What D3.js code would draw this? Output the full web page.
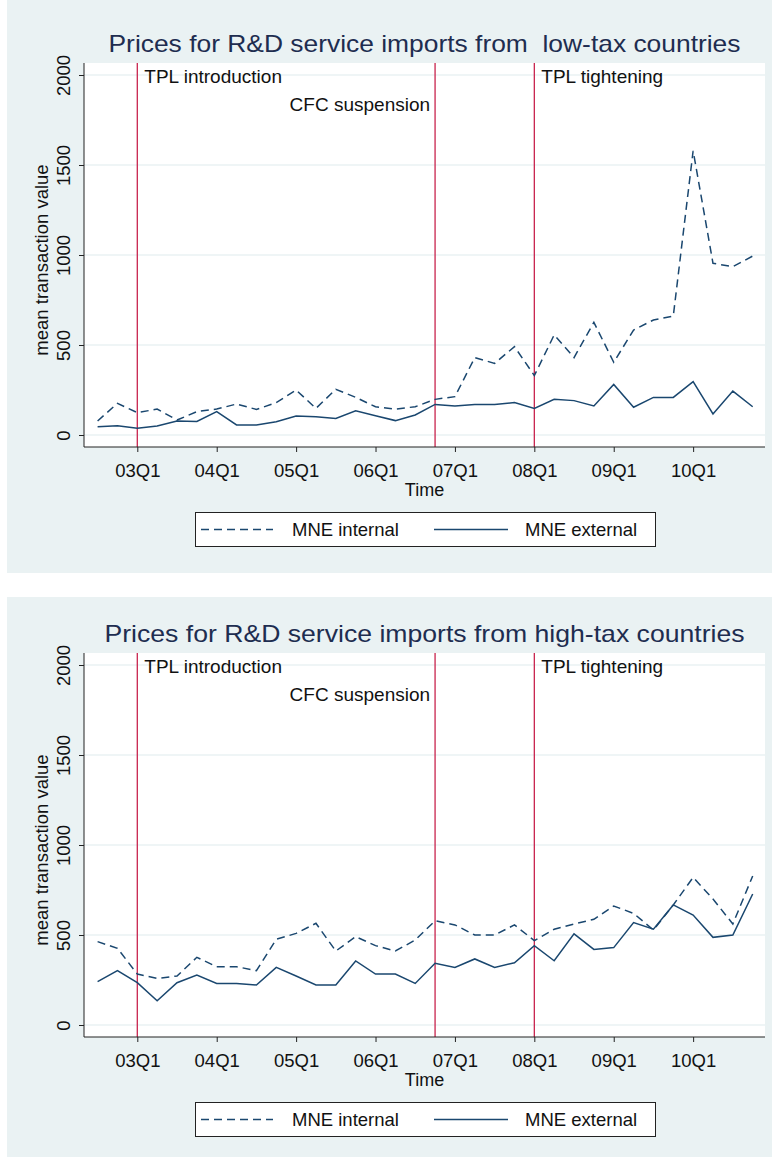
<!DOCTYPE html>
<html>
<head>
<meta charset="utf-8">
<script src="https://cdn.jsdelivr.net/npm/d3@7"></script>
<style>
  body { margin: 0; background: #fff; }
  svg { display: block; font-family: "Liberation Sans", Arial, sans-serif; }
</style>
</head>
<body>
<div id="chart"></div>
<script>
// quarters 02Q3 .. 10Q4
const quarters = ["02Q3","02Q4","03Q1","03Q2","03Q3","03Q4","04Q1","04Q2","04Q3","04Q4",
    "05Q1","05Q2","05Q3","05Q4","06Q1","06Q2","06Q3","06Q4","07Q1","07Q2","07Q3","07Q4",
    "08Q1","08Q2","08Q3","08Q4","09Q1","09Q2","09Q3","09Q4","10Q1","10Q2","10Q3","10Q4"];

const lowInternal = [78,176,124,144,83,130,144,172,142,180,250,148,254,209,157,144,157,198,213,430,
    398,491,330,556,430,626,404,583,639,661,1579,954,935,994];
const lowExternal = [46,52,37,50,78,75,130,56,56,74,106,102,92,135,107,80,111,170,161,170,
    170,180,148,198,191,161,281,154,209,209,296,117,244,157];
const highInternal = [463,426,283,259,272,376,324,324,302,476,509,565,411,491,441,411,472,579,556,500,
    500,556,469,532,561,587,661,620,528,667,820,700,561,828];
const highExternal = [241,302,235,135,235,278,231,231,222,320,272,222,222,356,283,283,231,343,320,367,
    320,346,441,357,506,420,430,569,532,667,611,487,500,728];

const xTickLabels = ["03Q1","04Q1","05Q1","06Q1","07Q1","08Q1","09Q1","10Q1"];
const yTicks = [0, 500, 1000, 1500, 2000];
const events = [
    {q: "03Q1", label: "TPL introduction", row: 0, side: "right"},
    {q: "06Q4", label: "CFC suspension", row: 1, side: "left"},
    {q: "08Q1", label: "TPL tightening", row: 0, side: "right"}
];
const seriesNames = ["MNE internal", "MNE external"];

const panels = [
    {title: "Prices for R&D service imports from  low-tax countries", titleLen: 632, internal: lowInternal, external: lowExternal},
    {title: "Prices for R&D service imports from high-tax countries", titleLen: 640, internal: highInternal, external: highExternal}
];

const W = 772, H = 1157;
const lineColor = "#1a476f", redColor = "#c8234d", bg = "#eaf2f3";
// panel backgrounds [y0, y1]
const panelBoxes = [[0, 573], [597, H]];
const panelShift = 590;

const svg = d3.select("#chart").append("svg")
    .attr("width", W)
    .attr("height", H);

const idx = (q) => quarters.indexOf(q);

panels.forEach((p, pi) => {
    svg.append("rect")
        .attr("x", 7).attr("y", panelBoxes[pi][0])
        .attr("width", W - 7).attr("height", panelBoxes[pi][1] - panelBoxes[pi][0])
        .attr("fill", bg);

    const g = svg.append("g").attr("transform", `translate(0,${pi * panelShift})`);

    const margin = {left: 84, right: 765, top: 63, bottom: 447};
    const x = d3.scaleLinear().domain([-0.685, 33.62]).range([margin.left, margin.right]);
    const y = d3.scaleLinear().domain([0, 2000]).range([435, 75]);

    // plot region
    g.append("rect")
        .attr("x", margin.left).attr("y", margin.top)
        .attr("width", margin.right - margin.left)
        .attr("height", margin.bottom - margin.top)
        .attr("fill", "#fff");

    // grid
    g.append("g").selectAll("line")
        .data(yTicks)
        .enter().append("line")
        .attr("x1", margin.left).attr("x2", margin.right)
        .attr("y1", (d) => y(d)).attr("y2", (d) => y(d))
        .attr("stroke", bg).attr("stroke-width", 1.5);

    // title
    g.append("text")
        .attr("x", (margin.left + margin.right) / 2)
        .attr("y", 52)
        .attr("text-anchor", "middle")
        .attr("font-size", 24)
        .attr("fill", "#1e2d50")
        .attr("textLength", p.titleLen)
        .attr("lengthAdjust", "spacingAndGlyphs")
        .style("white-space", "pre")
        .text(p.title);

    // event lines
    events.forEach((e) => {
        const ex = x(idx(e.q));
        g.append("line")
            .attr("x1", ex).attr("x2", ex)
            .attr("y1", margin.top).attr("y2", margin.bottom)
            .attr("stroke", redColor).attr("stroke-width", 1.3);
        g.append("text")
            .attr("x", e.side === "right" ? ex + 7 : ex - 5)
            .attr("y", 83 + e.row * 27.5)
            .attr("text-anchor", e.side === "right" ? "start" : "end")
            .attr("font-size", 19)
            .attr("fill", "#111")
            .text(e.label);
    });

    // lines
    const line = d3.line()
        .x((d, i) => x(i))
        .y((d) => y(d));

    g.append("path")
        .datum(p.internal)
        .attr("d", line)
        .attr("fill", "none")
        .attr("stroke", lineColor)
        .attr("stroke-width", 1.5)
        .attr("stroke-dasharray", "8,5");

    g.append("path")
        .datum(p.external)
        .attr("d", line)
        .attr("fill", "none")
        .attr("stroke", lineColor)
        .attr("stroke-width", 1.5);

    // y axis
    const yAxis = g.append("g")
        .attr("transform", `translate(${margin.left},0)`)
        .call(d3.axisLeft(y).tickValues(yTicks).tickFormat(d3.format("d")).tickSize(5).tickSizeOuter(0));
    yAxis.select(".domain").remove();
    yAxis.append("line")
        .attr("x1", 0).attr("x2", 0)
        .attr("y1", margin.top).attr("y2", margin.bottom)
        .attr("stroke", "#222");
    yAxis.selectAll(".tick line").attr("stroke", "#222");
    yAxis.selectAll(".tick text")
        .attr("transform", "rotate(-90)")
        .attr("x", 0).attr("y", -14).attr("dy", null)
        .attr("text-anchor", "middle")
        .attr("font-size", 18.5)
        .attr("fill", "#111");

    // x axis
    const xAxis = g.append("g")
        .attr("transform", `translate(0,${margin.bottom})`)
        .call(d3.axisBottom(x)
            .tickValues(xTickLabels.map(idx))
            .tickFormat((d) => quarters[d])
            .tickSize(5).tickSizeOuter(0));
    xAxis.select(".domain").remove();
    xAxis.append("line")
        .attr("x1", margin.left).attr("x2", margin.right)
        .attr("stroke", "#222");
    xAxis.selectAll(".tick line").attr("stroke", "#222");
    xAxis.selectAll(".tick text")
        .attr("y", 17)
        .attr("font-size", 18.5)
        .attr("fill", "#111");

    // axis titles
    g.append("text")
        .attr("transform", `translate(48,${(margin.top + margin.bottom) / 2 + 5}) rotate(-90)`)
        .attr("text-anchor", "middle")
        .attr("font-size", 18.5)
        .attr("fill", "#111")
        .text("mean transaction value");

    g.append("text")
        .attr("x", (margin.left + margin.right) / 2)
        .attr("y", 496)
        .attr("text-anchor", "middle")
        .attr("font-size", 18)
        .attr("fill", "#111")
        .text("Time");

    // legend
    const lg = g.append("g");
    lg.append("rect")
        .attr("x", 195.5).attr("y", 512.5)
        .attr("width", 460).attr("height", 34)
        .attr("fill", "#fff")
        .attr("stroke", "#222");
    const legendItems = [
        {name: seriesNames[0], x0: 201, x1: 273, tx: 292, dash: "8,5"},
        {name: seriesNames[1], x0: 434, x1: 508, tx: 525, dash: null}
    ];
    legendItems.forEach((it) => {
        lg.append("line")
            .attr("x1", it.x0).attr("x2", it.x1)
            .attr("y1", 529.5).attr("y2", 529.5)
            .attr("stroke", lineColor).attr("stroke-width", 1.5)
            .attr("stroke-dasharray", it.dash);
        lg.append("text")
            .attr("x", it.tx).attr("y", 536)
            .attr("font-size", 18.5)
            .attr("fill", "#111")
            .text(it.name);
    });
});
</script>
</body>
</html>
